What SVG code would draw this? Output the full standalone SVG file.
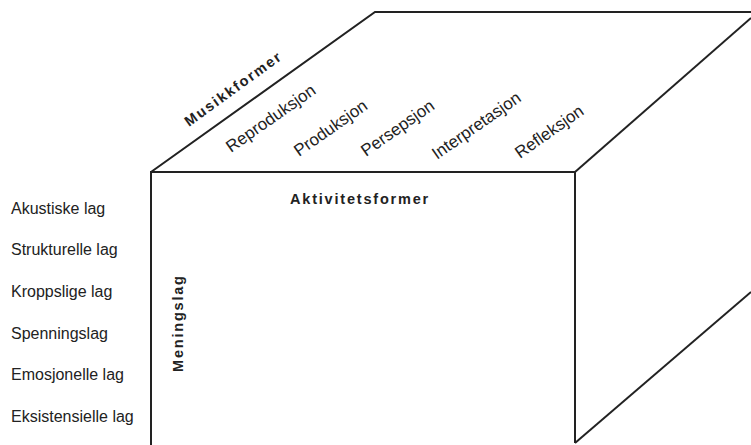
<svg xmlns="http://www.w3.org/2000/svg" width="751" height="445" viewBox="0 0 751 445">
<style>
.edge{fill:none;stroke:#222;stroke-width:2;stroke-linejoin:miter}
.lbl{font-family:"Liberation Sans",Arial,sans-serif;font-size:16px;fill:#222}
.rot{font-family:"Liberation Sans",Arial,sans-serif;font-size:17px;fill:#222}
.hd{font-family:"Liberation Sans",Arial,sans-serif;font-size:14.5px;font-weight:bold;letter-spacing:1.8px;fill:#222}
</style>
<rect width="751" height="445" fill="#fff"/>
<g id="connectors">
<path class="edge" d="M151,445 L151,172 L575,172 L575,443"/>
<path class="edge" d="M151,172 L375,12 L751,12"/>
<path class="edge" d="M575,172 L751,18"/>
<path class="edge" d="M575,443 L751,292"/>
</g>
<g id="musikkformer">
<text class="hd" transform="translate(189,127) rotate(-36)" letter-spacing="2.2">Musikkformer</text>
</g>
<g id="aktivitetsformer">
<text class="hd" x="290" y="204">Aktivitetsformer</text>
</g>
<g id="meningslag">
<text class="hd" transform="translate(183,372) rotate(-90)" letter-spacing="1.5">Meningslag</text>
</g>
<g id="reproduksjon"><text class="rot" transform="translate(231,153) rotate(-35)">Reproduksjon</text></g>
<g id="produksjon"><text class="rot" transform="translate(299,157) rotate(-35)">Produksjon</text></g>
<g id="persepsjon"><text class="rot" transform="translate(366,157) rotate(-35)">Persepsjon</text></g>
<g id="interpretasjon"><text class="rot" transform="translate(437,160) rotate(-35)">Interpretasjon</text></g>
<g id="refleksjon"><text class="rot" transform="translate(520,159) rotate(-35)">Refleksjon</text></g>
<g id="akustiske"><text class="lbl" x="11" y="214">Akustiske lag</text></g>
<g id="strukturelle"><text class="lbl" x="11" y="255">Strukturelle lag</text></g>
<g id="kroppslige"><text class="lbl" x="11" y="297">Kroppslige lag</text></g>
<g id="spenningslag"><text class="lbl" x="11" y="339">Spenningslag</text></g>
<g id="emosjonelle"><text class="lbl" x="11" y="380">Emosjonelle lag</text></g>
<g id="eksistensielle"><text class="lbl" x="11" y="422">Eksistensielle lag</text></g>
</svg>
